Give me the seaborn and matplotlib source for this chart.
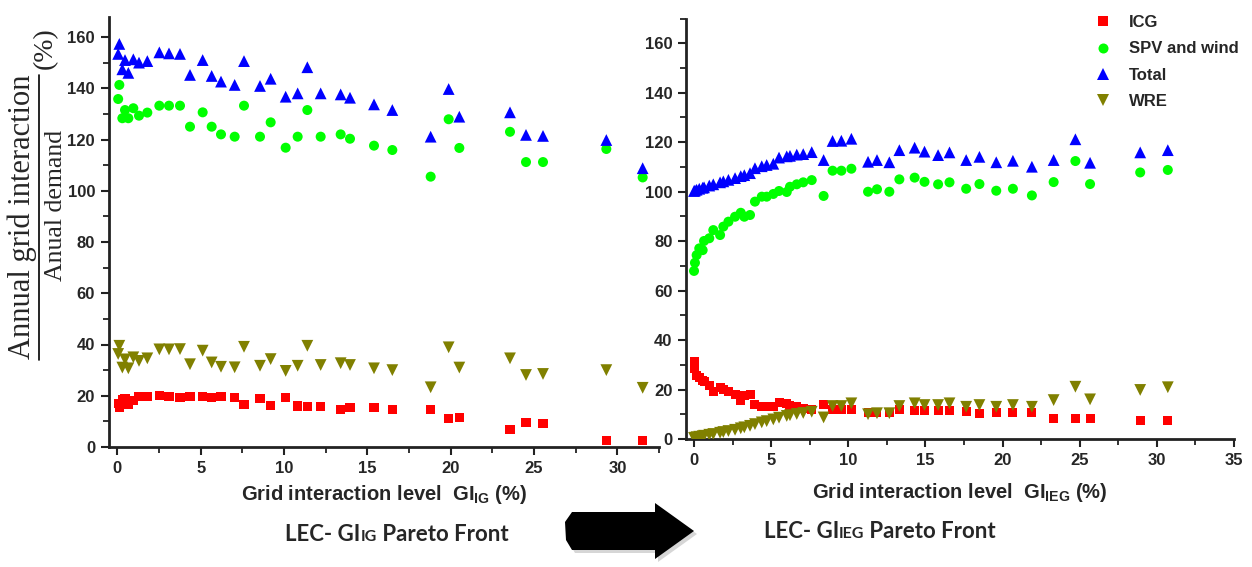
import numpy as np
import pandas as pd
import seaborn as sns
import matplotlib
matplotlib.use('Agg')
import matplotlib.pyplot as plt
from matplotlib.lines import Line2D
from matplotlib.patches import Polygon
from matplotlib.ticker import MultipleLocator

# ---------------- data ----------------
series = ['ICG', 'SPV and wind', 'Total', 'WRE']
colors = ['#FF0000', '#00FF00', '#0000FF', '#808000']
markers = ['s', 'o', '^', 'v']
msizes = [42, 52, 72, 72]

# Left panel: LEC - GI_IG Pareto front
x_ig = [0.05, 0.12, 0.3, 0.46, 0.66, 0.96, 1.3, 1.8, 2.52, 3.1, 3.76, 4.36, 5.12, 5.66,
        6.22, 7.04, 7.6, 8.56, 9.2, 10.1, 10.82, 11.4, 12.2, 13.4, 13.96, 15.4, 16.5,
        18.8, 19.88, 20.52, 23.56, 24.52, 25.54, 29.34, 31.52]
icg_ig = [17, 15.3, 18.5, 19, 16.7, 18.3, 19.6, 19.6, 20, 19.6, 19.3, 19.6, 19.8, 19.4,
          19.6, 19.4, 16.7, 19, 16.3, 19.4, 16, 15.7, 15.7, 14.7, 15.5, 15.3, 14.8,
          14.8, 11.1, 11.4, 6.9, 9.6, 9.2, 2.6, 2.7]
spv_ig = [135.8, 141.3, 128.3, 131.5, 128.3, 132.2, 129.3, 130.5, 133.2, 133.2, 133.2, 125,
          130.6, 125, 122, 121.1, 133.2, 121.1, 126.7, 116.8, 121.1, 131.5, 121.1, 122,
          120.3, 117.6, 115.9, 105.5, 127.9, 116.7, 123, 111.2, 111.2, 116.3, 105.2]
total_ig = [153.4, 157.3, 147.4, 151, 146, 151.3, 150, 150.6, 154, 153.6, 153.4, 145.2,
            151, 144.8, 142.6, 141.3, 150.6, 140.9, 143.7, 136.7, 138, 148.2, 138, 137.6,
            136.3, 133.7, 131.5, 121.1, 139.7, 128.9, 130.6, 121.8, 121.4, 119.8, 108.8]
wre_ig = [36.3, 39.5, 31, 34.2, 30.7, 35, 33.6, 34.6, 38.1, 38.1, 38.2, 32.3, 37.6, 33,
          31.3, 31.1, 39.1, 31.7, 34.3, 29.7, 31.7, 39.5, 32, 32.7, 32, 30.7, 30,
          23.3, 38.9, 31, 34.6, 28.1, 28.5, 30, 23.1]

# Right panel: LEC - GI_IEG Pareto front
x_ieg = [0, 0.06, 0.17, 0.34, 0.56, 0.65, 0.99, 1.25, 1.69, 1.9, 2.23, 2.66, 3.03, 3.26,
         3.63, 3.95, 4.39, 4.71, 5.14, 5.51, 6.01, 6.22, 6.66, 7.08, 7.63, 8.4, 8.98,
         9.55, 10.2, 11.28, 11.86, 12.66, 13.31, 14.3, 14.94, 15.82, 16.56, 17.64, 18.5,
         19.59, 20.67, 21.9, 23.31, 24.72, 25.67, 28.92, 30.71]
icg_ieg = [31.3, 28.6, 25.9, 24.8, 23.6, 23.2, 21.5, 19.2, 21, 20, 19.2, 17.9, 15.8, 17.5,
           17.9, 14.2, 13.4, 13.2, 13.1, 14.7, 14.5, 13.6, 13.1, 12.5, 11.8, 14.2, 11.8,
           11.8, 11.8, 10.7, 10.7, 10.7, 11.8, 11.5, 11.5, 11.5, 11.5, 11.1, 10.5,
           10.9, 10.9, 10.9, 8.4, 8.2, 8.2, 7.5, 7.5]
spv_ieg = [68, 71.3, 74.4, 77.1, 76.4, 80.1, 81.2, 84.5, 82.5, 85.9, 87.9, 89.9, 91.5, 89.9,
           90.6, 96, 98, 98, 99.1, 100.3, 99.9, 102, 103, 103.8, 104.7, 98.3, 108.5,
           108.5, 109.3, 100, 101, 100, 105, 105.7, 104, 103, 103.8, 101.2, 103.1,
           100.4, 101.2, 98.5, 103.9, 112.4, 103.1, 107.8, 108.8]
total_ieg = [100.3, 100.5, 100.8, 101.2, 101.6, 101.8, 102.5, 103, 103.8, 104.2, 104.8,
             105.5, 106.3, 106.7, 107.5, 109.5, 110.3, 110.8, 111.3, 113.8, 114.3, 114.5,
             115, 115.2, 116, 112.8, 120.5, 120.6, 121.4, 112.1, 112.8, 111.9, 116.8,
             117.8, 116.2, 114.8, 115.9, 112.8, 114.1, 111.9, 112.5, 110.1, 112.8, 121.2,
             111.7, 115.9, 116.8]
wre_ieg = [0.5, 0.6, 0.8, 1.0, 1.2, 1.4, 1.8, 2.1, 2.6, 2.9, 3.3, 3.8, 4.4, 4.8, 5.4, 6.1,
           6.8, 7.3, 8.0, 8.7, 9.4, 9.7, 10.2, 10.6, 11.1, 8.8, 13.4, 13.4, 14.5, 10.1,
           10.5, 10.5, 13.4, 14.5, 13.8, 13.8, 14.5, 13.1, 13.8, 13.1, 13.8, 13.1, 15.8,
           21.2, 16.1, 19.9, 21]

x_ticks_ig = [0, 5, 10, 15, 20, 25, 30]
x_ticks_ieg = [0, 5, 10, 15, 20, 25, 30, 35]
y_ticks = [0, 20, 40, 60, 80, 100, 120, 140, 160]

# ---------------- style ----------------
sns.set_theme(style='ticks')
plt.rcParams['font.family'] = ['Liberation Sans', 'DejaVu Sans']
plt.rcParams['mathtext.fontset'] = 'custom'
plt.rcParams['mathtext.rm'] = 'Liberation Sans:bold'
plt.rcParams['mathtext.bf'] = 'Liberation Sans:bold'
plt.rcParams['mathtext.it'] = 'Liberation Sans:bold'

W, H = 1252, 567
fig = plt.figure(figsize=(W / 100, H / 100), dpi=100)
fig.patch.set_facecolor('white')


def rect(l, r, b, t):
    return [l / W, 1 - b / H, (r - l) / W, (b - t) / H]


ax1 = fig.add_axes(rect(109, 659, 447, 16.5))
ax2 = fig.add_axes(rect(686.3, 1234, 439.2, 18.5))


def long_df(x, icg, spv, tot, wre):
    n = len(x)
    return pd.DataFrame({
        'x': np.tile(np.asarray(x, float), 4),
        'y': np.concatenate([icg, spv, tot, wre]).astype(float),
        'series': np.repeat(series, n),
    })


df_ig = long_df(x_ig, icg_ig, spv_ig, total_ig, wre_ig)
df_ieg = long_df(x_ieg, icg_ieg, spv_ieg, total_ieg, wre_ieg)

pal = dict(zip(series, colors))
mk = dict(zip(series, markers))
sz = dict(zip(series, msizes))

for ax, df, leg in [(ax1, df_ig, False), (ax2, df_ieg, True)]:
    sns.scatterplot(data=df, x='x', y='y', hue='series', style='series', size='series',
                    palette=pal, markers=mk, sizes=sz, hue_order=series,
                    linewidth=0, alpha=1, ax=ax, legend=leg, zorder=3)

ax1.set_xlim(-0.5, 32.5)
ax1.set_ylim(0, 168)
ax2.set_xlim(-0.5, 35)
ax2.set_ylim(0, 170)
ax1.set_xticks(x_ticks_ig)
ax2.set_xticks(x_ticks_ieg)

for ax in (ax1, ax2):
    ax.set_yticks(y_ticks)
    ax.xaxis.set_minor_locator(MultipleLocator(2.5))
    ax.yaxis.set_minor_locator(MultipleLocator(10))
    ax.tick_params(which='major', direction='out', length=6, width=1.5, color='#222222',
                   labelsize=12, pad=4)
    ax.tick_params(which='minor', direction='out', length=4, width=1.3, color='#222222')
    for lab in ax.get_xticklabels() + ax.get_yticklabels():
        lab.set_fontweight('bold')
    for s in ('top', 'right'):
        ax.spines[s].set_visible(False)
    for s in ('left', 'bottom'):
        ax.spines[s].set_linewidth(2)
        ax.spines[s].set_color('#222222')
    ax.set_xlabel('')
    ax.set_ylabel('')
    ax.set_facecolor('white')

# legend
old = ax2.get_legend()
handles = old.legend_handles
labels = [t.get_text() for t in old.get_texts()]
old.remove()
leg = ax2.legend(handles, labels, loc='upper left', bbox_to_anchor=(1091 / W, 1 - 15 / H),
                 bbox_transform=fig.transFigure, frameon=False,
                 prop={'family': 'Liberation Sans', 'weight': 'bold', 'size': 12},
                 handletextpad=0.9, handlelength=1.4, labelspacing=0.68, borderaxespad=0,
                 borderpad=0)

# x labels
fig.text(384 / W, 1 - 495 / H, r'Grid interaction level  GI$_{\mathregular{IG}}$ (%)',
         ha='center', va='center', fontsize=14.5, fontweight='bold')
fig.text(960 / W, 1 - 493 / H, r'Grid interaction level  GI$_{\mathregular{IEG}}$ (%)',
         ha='center', va='center', fontsize=14.5, fontweight='bold')

# y label (fraction)
serif = 'Liberation Serif'
fig.text(22 / W, 1 - 217 / H, 'Annual grid interaction', rotation=90, ha='center',
         va='center', fontsize=22, family=serif)
fig.text(56 / W, 1 - 205 / H, 'Anual demand', rotation=90, ha='center', va='center',
         fontsize=18.5, family=serif)
fig.add_artist(Line2D([39 / W, 39 / W], [1 - 360 / H, 1 - 75 / H], transform=fig.transFigure,
                      color='black', lw=1.2))
fig.text(45 / W, 1 - 48 / H, '(%)', rotation=90, ha='center', va='center', fontsize=20,
         family=serif)

# titles with small-caps subscripts
renderer = fig.canvas.get_renderer()


def compose(xc, yc, parts):
    texts = []
    total = 0
    for s, size in parts:
        t = fig.text(0, 1 - yc / H, s, fontsize=size, fontweight='bold', family='Lato',
                     ha='left', va='baseline')
        bb = t.get_window_extent(renderer)
        texts.append((t, bb.width))
        total += bb.width
    x = xc - total / 2
    for t, w in texts:
        t.set_x(x / W)
        x += w


compose(397, 541, [('LEC- GI', 16), ('IG', 11.5), ('\u00a0Pareto Front', 16)])
compose(880, 538, [('LEC- GI', 16), ('IEG', 11.5), ('\u00a0Pareto Front', 16)])

# block arrow with shadow
def arrow_pts(dx, dy):
    pts = [(572, 512), (655, 512), (655, 503), (694, 531), (655, 559), (655, 550),
           (572, 550), (566, 540), (565, 522)]
    return [((px + dx) / W, 1 - (py + dy) / H) for px, py in pts]


fig.add_artist(Polygon(arrow_pts(3, 3), closed=True, transform=fig.transFigure,
                       facecolor='#bbbbbb', edgecolor='none', alpha=0.6))
fig.add_artist(Polygon(arrow_pts(0, 0), closed=True, transform=fig.transFigure,
                       facecolor='black', edgecolor='none'))

fig.savefig('out.png', dpi=100, facecolor='white')
